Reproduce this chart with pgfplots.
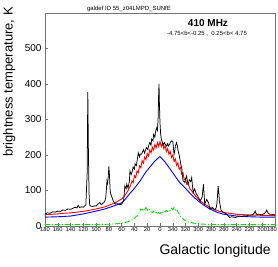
\documentclass[border=0pt]{standalone}
\usepackage{fontspec}
\setmainfont{Liberation Sans}
\usepackage{pgfplots}
\pgfplotsset{compat=1.18}
\definecolor{rootgreen}{RGB}{0,225,0}
\begin{document}
\begin{tikzpicture}
\begin{axis}[
  scale only axis, width=230pt, height=213pt,
  xmin=-180, xmax=180, x dir=reverse, ymin=0, ymax=600,
  axis line style={black!55, line width=0.6pt},
  tick style={black!55, line width=0.5pt},
  tick align=inside, tick pos=left,
  xtick={-180,-160,...,180},
  xticklabels={180\hspace*{6pt},200,220,240,260,280,300,320,340,0,20,40,60,80,100,120,140,160,180},
  ytick={0,100,...,500},
  minor y tick num=4,
  major tick length=3pt, minor tick length=1.5pt,
  xticklabel style={font=\fontsize{5.8}{6}\selectfont, inner sep=1pt},
  yticklabel style={font=\fontsize{10}{12}\selectfont},
  /pgf/number format/assume math mode=true,
]
% green component
\addplot[rootgreen, line width=0.9pt, dash pattern=on 5pt off 2pt on 1pt off 2pt] coordinates {
(180,4) (140,4) (100,4) (80,5) (70,6) (60,8) (50,12) (45,16) (40,22) (35,30) (32,40) (30,48)
(28,45) (26,50) (24,44) (22,52) (20,46) (18,42) (16,46) (14,40) (12,38) (10,42) (8,36) (6,38)
(4,34) (2,38) (0,35) (-2,40) (-4,37) (-6,42) (-8,40) (-10,44) (-12,41) (-14,46) (-16,44)
(-18,50) (-20,46) (-22,52) (-24,45) (-26,48) (-28,40) (-30,35) (-33,26) (-36,20) (-40,15)
(-45,11) (-50,9) (-60,6) (-70,5) (-80,4) (-120,4) (-180,4)
};
% blue model
\addplot[blue, line width=0.9pt] coordinates {
(180,25) (160,26) (140,28) (120,34) (100,42) (86,48) (70,58) (60,65) (55,74) (47,92) (40,106)
(30,130) (23,150) (15,168) (8,183) (0,196) (-8,180) (-16,160) (-23,142) (-31,122) (-40,106)
(-47,92) (-55,78) (-63,66) (-70,57) (-78,48) (-90,38) (-100,33) (-120,28) (-140,26) (-160,25) (-180,25)
};
% red model
\addplot[red, line width=0.9pt] coordinates {
(180,32) (170,33) (160,34) (150,36) (140,37) (130,39) (117,42) (100,48) (86,54) (75,62) (70,66)
(60,76) (55,86) (50,100) (46,114) (44,127) (42,122) (40,142) (38,136) (36,155) (34,150) (32,169)
(30,164) (28,184) (26,177) (24,194) (22,187) (20,204) (18,197) (16,214) (14,206) (12,222) (10,214)
(8,229) (6,220) (4,235) (2,224) (0,238) (-2,224) (-4,233) (-6,218) (-8,226) (-10,210) (-12,218)
(-14,202) (-16,210) (-18,193) (-20,200) (-22,182) (-24,189) (-26,171) (-28,178) (-30,160) (-32,165)
(-34,146) (-36,150) (-38,130) (-40,133) (-42,117) (-44,119) (-47,104) (-50,98) (-55,86) (-63,70)
(-70,62) (-78,52) (-90,43) (-100,38) (-120,33) (-140,31) (-160,30) (-180,30)
};
% observed
\addplot[black, line width=0.75pt] coordinates {
(180,34) (176,37) (172,36) (168,40) (164,39) (160,42) (156,41) (152,45) (148,44) (144,48) (140,47)
(136,50) (133,53) (130,51) (128,58) (126,52) (123,54) (120,53) (118,56) (116,60) (114,150) (113,377)
(112,200) (111,90) (110,58) (108,56) (105,55) (102,57) (100,56) (97,62) (94,66) (92,60) (90,63)
(88,66) (86,72) (85,80) (84,100) (83,127) (82,120) (81,140) (80,168) (79,140) (78,100) (77,90)
(75,80) (73,70) (70,62) (67,63) (65,62) (62,60) (60,62) (57,70) (55,113) (53,105) (52,118) (50,107)
(48,125) (47,155) (45,145) (44,150) (42,166) (40,160) (39,175) (37,170) (36,182) (34,206) (32,195)
(31,203) (29,202) (27,210) (26,215) (24,205) (23,212) (21,221) (19,215) (18,225) (16,235) (14,228)
(13,245) (11,240) (10,258) (8,250) (7,265) (5,277) (4,270) (3,300) (2,380) (1.5,400) (1,350) (0,290)
(-1,260) (-2,245) (-3,240) (-5,228) (-7,235) (-8,231) (-10,225) (-12,232) (-13,225) (-15,230)
(-16,235) (-18,240) (-20,238) (-21,220) (-22,202) (-23,210) (-24,225) (-26,235) (-27,228) (-28,215)
(-30,200) (-31,190) (-33,170) (-34,164) (-35,145) (-36,127) (-38,125) (-39,122) (-40,132) (-41.7,141)
(-43,125) (-44,118) (-46,130) (-48,125) (-49.6,136) (-51,110) (-52,94) (-54,105) (-55,100) (-57,90)
(-59,85) (-60,80) (-62,75) (-63,70) (-65,78) (-66,82) (-67,100) (-68,118) (-69,90) (-70,62) (-72,70)
(-73,75) (-75,68) (-76,66) (-78,48) (-80,50) (-82,52) (-84,48) (-86,45) (-88,52) (-89,62) (-90,85)
(-91,113) (-92,95) (-93,70) (-95,50) (-96,42) (-98,40) (-100,38) (-102,36) (-104,34) (-107,28)
(-109,24) (-112,26) (-115,25) (-118,24) (-120,25) (-123,27) (-125,28) (-128,26) (-130,28) (-133,29)
(-135,28) (-138,30) (-140,30) (-143,31) (-145,32) (-147,35) (-149,42) (-150,36) (-152,32) (-154,33)
(-156,33) (-159,31) (-161,33) (-163,35) (-165,38) (-167,45) (-168,40) (-170,35) (-172,33) (-175,33)
(-178,32) (-180,31)
};
\coordinate (sw) at (axis cs:180,0);
\end{axis}
\node[font=\fontsize{6}{7}\selectfont, inner sep=0pt] at ([xshift=84pt,yshift=217pt]sw) {galdef ID 55\_z04LMPD\_SUNfE};
\node[font=\fontsize{10}{12}\selectfont\bfseries, inner sep=0pt] at ([xshift=163pt,yshift=203pt]sw) {410 MHz};
\node[font=\fontsize{6}{7}\selectfont, inner sep=0pt] at ([xshift=162pt,yshift=192.5pt]sw) {-4.75<b<-0.25 ,\ \ 0.25<b< 4.75};
\node[font=\fontsize{14}{16}\selectfont, inner sep=0pt, anchor=east] at ([xshift=226pt,yshift=-25pt]sw) {Galactic longitude};
\node[font=\fontsize{13}{15}\selectfont, inner sep=0pt, rotate=90, anchor=north east] at ([xshift=-42pt,yshift=219pt]sw) {brightness temperature, K};
\pgfresetboundingbox
\path ([xshift=-45pt,yshift=-41pt]sw) rectangle ([xshift=233pt,yshift=226pt]sw);
\end{tikzpicture}
\end{document}
